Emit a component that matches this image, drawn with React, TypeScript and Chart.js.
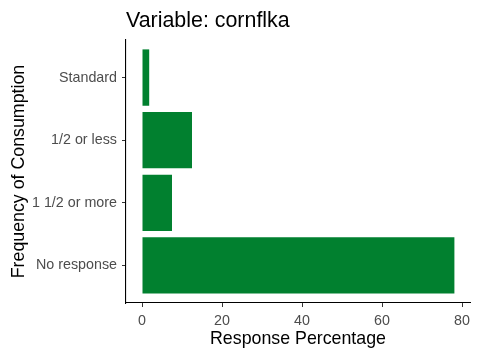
import React, { useEffect, useRef } from "react";
import { Chart, registerables } from "chart.js";

Chart.register(...registerables);

const chartTitle = "Variable: cornflka";
const categories = ["Standard", "1/2 or less", "1 1/2 or more", "No response"];
const values = [1.8, 12.5, 7.5, 78.1];
const xTicks = [0, 20, 40, 60, 80];
const xTitle = "Response Percentage";
const yTitle = "Frequency of Consumption";

const FONT = "'Liberation Sans', Arial, sans-serif";
const BAR = "#01802F";

export default function App() {
  const ref = useRef<HTMLCanvasElement | null>(null);

  useEffect(() => {
    const n = categories.length;
    const data = categories.map((c, i) => ({ x: values[i], y: n - i }));
    const titlePlugin = {
      id: "ggTitle",
      afterDraw(chart: any) {
        const ctx = chart.ctx;
        ctx.save();
        ctx.font = `21.4px ${FONT}`;
        ctx.fillStyle = "#000";
        ctx.textAlign = "left";
        ctx.textBaseline = "alphabetic";
        ctx.fillText(chartTitle, chart.chartArea.left, 27);
        ctx.restore();
      },
    };
    const chart = new Chart(ref.current as HTMLCanvasElement, {
      type: "bar",
      data: {
        datasets: [
          {
            data: data as any,
            backgroundColor: BAR,
            borderWidth: 0,
            barPercentage: 0.9,
            categoryPercentage: 1,
          },
        ],
      },
      options: {
        indexAxis: "y",
        responsive: false,
        animation: false,
        layout: { padding: { top: 40, right: 10, left: 0, bottom: 0 } },
        plugins: { legend: { display: false }, tooltip: { enabled: false }, title: { display: false } },
        scales: {
          x: {
            type: "linear",
            min: -4,
            max: 82,
            offset: false,
            afterBuildTicks: (s: any) => {
              s.ticks = xTicks.map((v) => ({ value: v }));
            },
            afterFit: (s: any) => {
              s.height = 57;
            },
            border: { display: true, color: "#000", width: 1.1 },
            grid: { display: true, offset: false, drawOnChartArea: false, drawTicks: true, tickLength: 4, color: "#333" },
            ticks: { color: "#4D4D4D", font: { family: FONT, size: 14.3 }, padding: 5, maxRotation: 0 },
            title: {
              display: true,
              text: xTitle,
              color: "#000",
              font: { family: FONT, size: 17.8 },
              padding: { top: 0, bottom: 10 },
            },
          },
          y: {
            type: "linear",
            min: 0.4,
            max: n + 0.6,
            offset: false,
            afterBuildTicks: (s: any) => {
              s.ticks = categories.map((_, i) => ({ value: n - i }));
            },
            afterFit: (s: any) => {
              s.width = 126;
            },
            border: { display: true, color: "#000", width: 1.1 },
            grid: { display: true, offset: false, drawOnChartArea: false, drawTicks: true, tickLength: 4, color: "#333" },
            ticks: {
              color: "#4D4D4D",
              font: { family: FONT, size: 14.3 },
              padding: 5,
              callback: (v: any) => categories[n - Number(v)] ?? "",
            },
            title: {
              display: true,
              text: yTitle,
              color: "#000",
              font: { family: FONT, size: 17.8 },
              padding: { top: 8, bottom: 0 },
            },
          },
        },
      },
      plugins: [titlePlugin],
    });
    return () => chart.destroy();
  }, []);

  return (
    <div style={{ position: "absolute", left: 0, top: 0, width: 480, height: 360, background: "#fff" }}>
      <canvas ref={ref} width={480} height={360} />
    </div>
  );
}
